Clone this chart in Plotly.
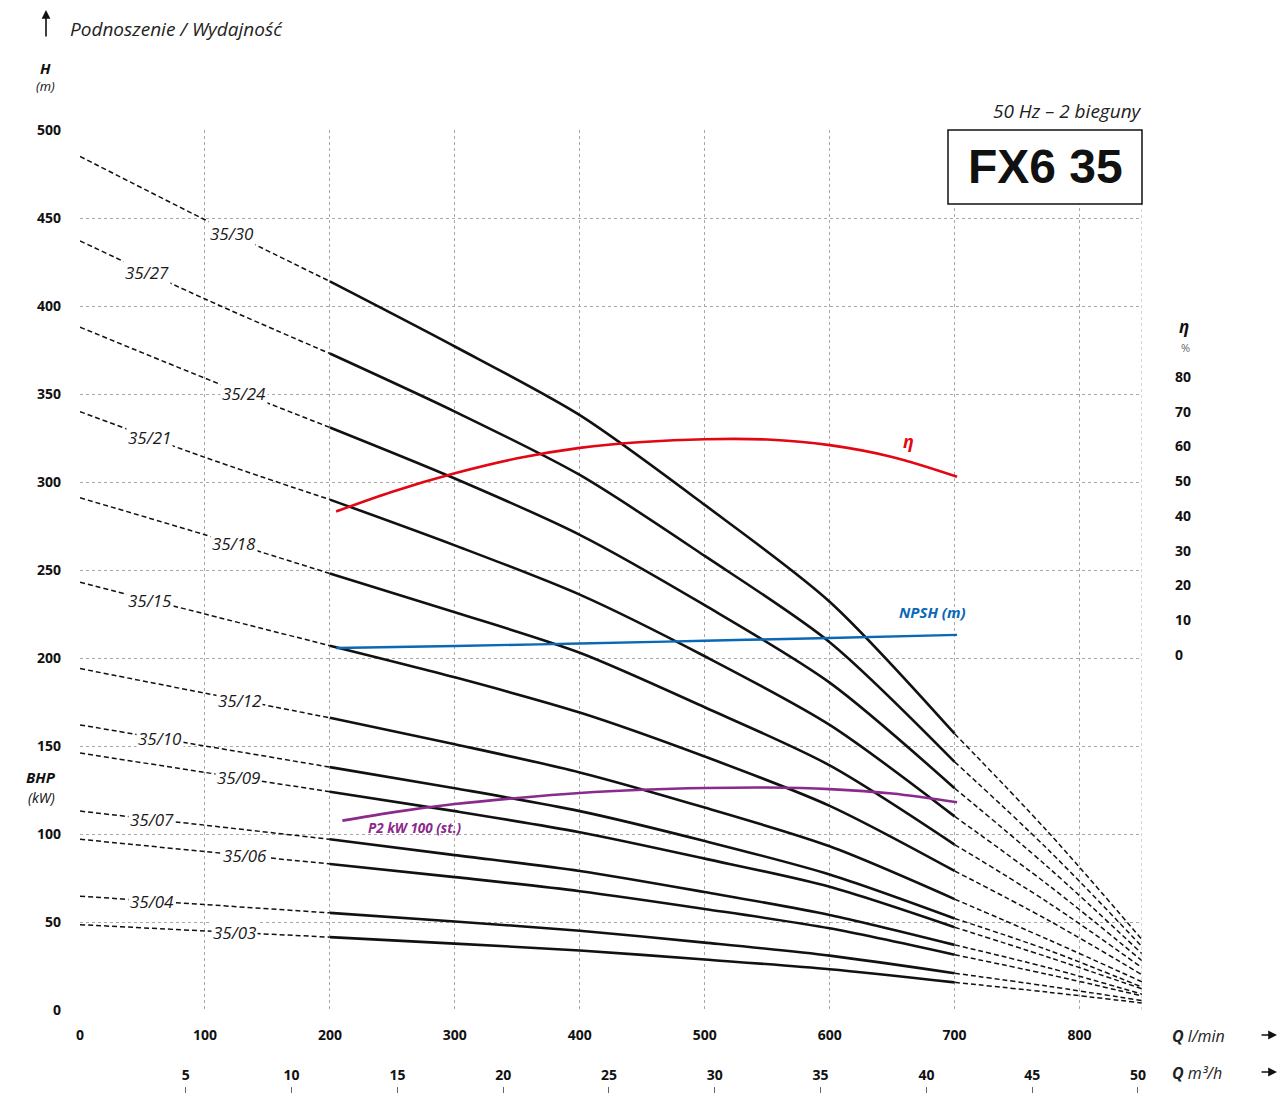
import numpy as np
import plotly.graph_objects as go

# ---------------- data ----------------
Q_LMIN = [0, 100, 200, 300, 400, 500, 600, 700, 775, 850]

CURVE_NAMES = ["35/30", "35/27", "35/24", "35/21", "35/18", "35/15", "35/12",
               "35/10", "35/09", "35/07", "35/06", "35/04", "35/03"]

H_35_30 = [485, 449, 414, 377, 338, 287, 232, 157, 101, 40]
H_35_27 = [437, 404, 373, 340, 304, 258, 209, 141, 91, 36]
H_35_24 = [388, 359, 331, 302, 270, 230, 186, 126, 81, 32]
H_35_21 = [340, 314, 290, 264, 236, 201, 162, 110, 71, 28]
H_35_18 = [291, 270, 248, 226, 203, 172, 139, 94, 61, 24]
H_35_15 = [243, 225, 207, 189, 169, 144, 116, 79, 51, 20]
H_35_12 = [194, 180, 166, 151, 135, 115, 93, 63, 40, 16]
H_35_10 = [162, 150, 138, 126, 113, 96, 77, 52, 34, 13]
H_35_09 = [146, 135, 124, 113, 101, 86, 70, 47, 30, 12]
H_35_07 = [113, 105, 97, 88, 79, 67, 54, 37, 24, 9]
H_35_06 = [97, 90, 83, 75.5, 67.5, 57.4, 46.4, 31.4, 20.2, 8]
H_35_04 = [64.7, 59.9, 55.2, 50.3, 45.0, 38.3, 30.9, 20.9, 13.5, 5.3]
H_35_03 = [48.5, 44.9, 41.4, 37.7, 33.8, 28.7, 23.2, 15.7, 10.1, 4.0]

HEADS = [H_35_30, H_35_27, H_35_24, H_35_21, H_35_18, H_35_15, H_35_12,
         H_35_10, H_35_09, H_35_07, H_35_06, H_35_04, H_35_03]

# label anchor along each curve (l/min)
LABEL_Q = [122, 54, 131, 56, 123, 56, 128, 64, 127, 58, 132, 58, 124]

ETA_Q = [205, 250, 300, 350, 400, 450, 500, 550, 600, 650, 702]
ETA = [41.3, 47.0, 52.3, 56.6, 59.6, 61.3, 62.1, 62.0, 60.4, 57.0, 51.3]

NPSH_Q = [205, 300, 400, 500, 600, 702]
NPSH = [2.0, 2.6, 3.3, 4.1, 4.9, 5.8]

P2_Q = [210, 250, 300, 350, 400, 450, 500, 550, 600, 650, 702]
P2_KW = [107.6, 112.3, 117.0, 120.5, 123.3, 125.1, 126.1, 126.4, 125.5, 123.0, 118.0]

X_TICKS = [0, 100, 200, 300, 400, 500, 600, 700, 800]
X2_TICKS = [5, 10, 15, 20, 25, 30, 35, 40, 45, 50]
Y_TICKS = [0, 50, 100, 150, 200, 250, 300, 350, 400, 450, 500]
Y2_TICKS = [0, 10, 20, 30, 40, 50, 60, 70, 80]

# ---------------- layout geometry ----------------
W, H = 1278, 1093
ML, MR, MT, MB = 80, 136, 130, 0
PLOT_BOTTOM_PX = 1010
PAPER_H = H - MT - MB
PAPER_W = W - ML - MR
Y_DOMAIN0 = (H - MB - PLOT_BOTTOM_PX) / PAPER_H


def P(px, py):
    return (px - ML) / PAPER_W, (H - MB - py) / PAPER_H


BLACK = "#111111"
RED = "#e30613"
BLUE = "#0a68b4"
PURPLE = "#8a2a8c"
GRID = "#a8a8a8"
FONT = "Open Sans"

fig = go.Figure()

for name, hv in zip(CURVE_NAMES, HEADS):
    q = np.array(Q_LMIN)
    h = np.array(hv)
    i200 = Q_LMIN.index(200)
    i700 = Q_LMIN.index(700)
    fig.add_trace(go.Scatter(x=q[:i200 + 1], y=h[:i200 + 1], mode="lines",
                             line=dict(color=BLACK, width=1.5, dash="5px,3px", shape="spline"),
                             hoverinfo="skip"))
    fig.add_trace(go.Scatter(x=q[i200:i700 + 1], y=h[i200:i700 + 1], mode="lines",
                             line=dict(color=BLACK, width=2.6, shape="spline", smoothing=0.8),
                             hoverinfo="skip"))
    fig.add_trace(go.Scatter(x=q[i700:], y=h[i700:], mode="lines",
                             line=dict(color=BLACK, width=1.5, dash="5px,3px", shape="spline"),
                             hoverinfo="skip"))

fig.add_trace(go.Scatter(x=ETA_Q, y=ETA, yaxis="y2", mode="lines",
                         line=dict(color=RED, width=2.6, shape="spline"), hoverinfo="skip"))
fig.add_trace(go.Scatter(x=NPSH_Q, y=NPSH, yaxis="y2", mode="lines",
                         line=dict(color=BLUE, width=2.4, shape="spline"), hoverinfo="skip"))
fig.add_trace(go.Scatter(x=P2_Q, y=P2_KW, mode="lines",
                         line=dict(color=PURPLE, width=2.6, shape="spline"), hoverinfo="skip"))
# empty helper trace so that the m³/h axis gets drawn
fig.add_trace(go.Scatter(x=X2_TICKS, y=[None] * len(X2_TICKS), xaxis="x2", yaxis="y",
                         mode="lines", hoverinfo="skip"))

tickfont = dict(family=FONT, size=14, color="#111", weight="bold")

fig.update_layout(
    width=W, height=H, autosize=False,
    margin=dict(l=ML, r=MR, t=MT, b=MB, pad=0, autoexpand=False),
    paper_bgcolor="white", plot_bgcolor="white",
    showlegend=False,
    xaxis=dict(range=[0, 850], tickvals=X_TICKS, showgrid=True, gridcolor=GRID,
               griddash="dot", gridwidth=1, zeroline=False, showline=False,
               ticks="", tickfont=tickfont, ticklabelstandoff=15, anchor="y",
               automargin=False),
    xaxis2=dict(range=[0, 50.19], tickvals=X2_TICKS, overlaying="x", anchor="free",
                position=0, side="top", showgrid=False, zeroline=False, showline=False,
                ticks="outside", ticklen=6, tickwidth=1, tickcolor="#666",
                tickfont=tickfont, ticklabelstandoff=1, automargin=False),
    yaxis=dict(domain=[Y_DOMAIN0, 1], range=[0, 500], tickvals=Y_TICKS, showgrid=True,
               gridcolor=GRID, griddash="dot", gridwidth=1, zeroline=False,
               showline=False, ticks="", tickfont=tickfont, ticklabelstandoff=18,
               automargin=False),
    yaxis2=dict(overlaying="y", side="right", anchor="x", range=[-102.16, 151.08],
                tickvals=Y2_TICKS, showgrid=False, zeroline=False, showline=False,
                ticks="", tickfont=tickfont, ticklabelstandoff=32, automargin=False),
)

# right plot border (dotted), as in the reference
fig.add_shape(type="line", xref="x", yref="y", x0=850, x1=850, y0=0, y1=500,
              line=dict(color=GRID, width=1, dash="dot"))

ann = []

# curve labels sitting on the dashed parts
for name, hv, lq in zip(CURVE_NAMES, HEADS, LABEL_Q):
    hy = float(np.interp(lq, Q_LMIN, hv))
    ann.append(dict(x=lq, y=hy, xref="x", yref="y", text=name, showarrow=False,
                    font=dict(family=FONT, size=17, color="#1a1a1a", style="italic"),
                    bgcolor="white", borderpad=1))


def txt(px, py, text, size, color="#111", bold=False, italic=True, xanchor="center",
        family=FONT):
    x, y = P(px, py)
    ann.append(dict(x=x, y=y, xref="paper", yref="paper", text=text, showarrow=False,
                    xanchor=xanchor, yanchor="middle",
                    font=dict(family=family, size=size, color=color,
                              weight="bold" if bold else "normal",
                              style="italic" if italic else "normal")))


def arrow(px, py, ax, ay):
    x, y = P(px, py)
    ann.append(dict(x=x, y=y, xref="paper", yref="paper", text="", showarrow=True,
                    ax=ax, ay=ay, arrowhead=2, arrowsize=1.1, arrowwidth=1.6,
                    arrowcolor="#111"))


txt(68, 29, "Podnoszenie / Wydajność", 19, "#222", xanchor="left")
arrow(46, 10, 0, 28)
txt(45, 68, "H", 15, bold=True)
txt(45, 86, "(m)", 13)
txt(41, 777, "BHP", 15, bold=True)
txt(41, 797, "(kW)", 14)
txt(1184, 326, "η", 17, bold=True)
txt(1185, 347, "%", 11, "#666", italic=False)
txt(1144, 111, "50 Hz – 2 bieguny", 19, "#222", xanchor="right")

x0, y0 = P(948, 204)
x1, y1 = P(1142, 130)
fig.add_shape(type="rect", xref="paper", yref="paper", x0=x0, y0=y0, x1=x1, y1=y1,
              line=dict(color="#111", width=1.5), fillcolor="white", layer="above")
txt(1045, 167, "FX6 35", 48, bold=True, italic=False, family="Liberation Sans")

txt(908, 441, "η", 18, RED, bold=True)
txt(932, 612, "NPSH (m)", 15, BLUE, bold=True)
txt(415, 828, "P2 kW 100 (st.)", 13.5, PURPLE, bold=True)

txt(1170, 1036, "<b>Q</b> l/min", 16, "#222", xanchor="left")
txt(1170, 1073, "<b>Q</b> m³/h", 16, "#222", xanchor="left")
arrow(1278, 1035, -18, 0)
arrow(1278, 1072, -18, 0)

fig.update_layout(annotations=ann)

fig.write_html("out.html",
               config={"displayModeBar": False, "responsive": False},
               post_script="document.body.style.margin='0';document.body.style.overflow='hidden';")
